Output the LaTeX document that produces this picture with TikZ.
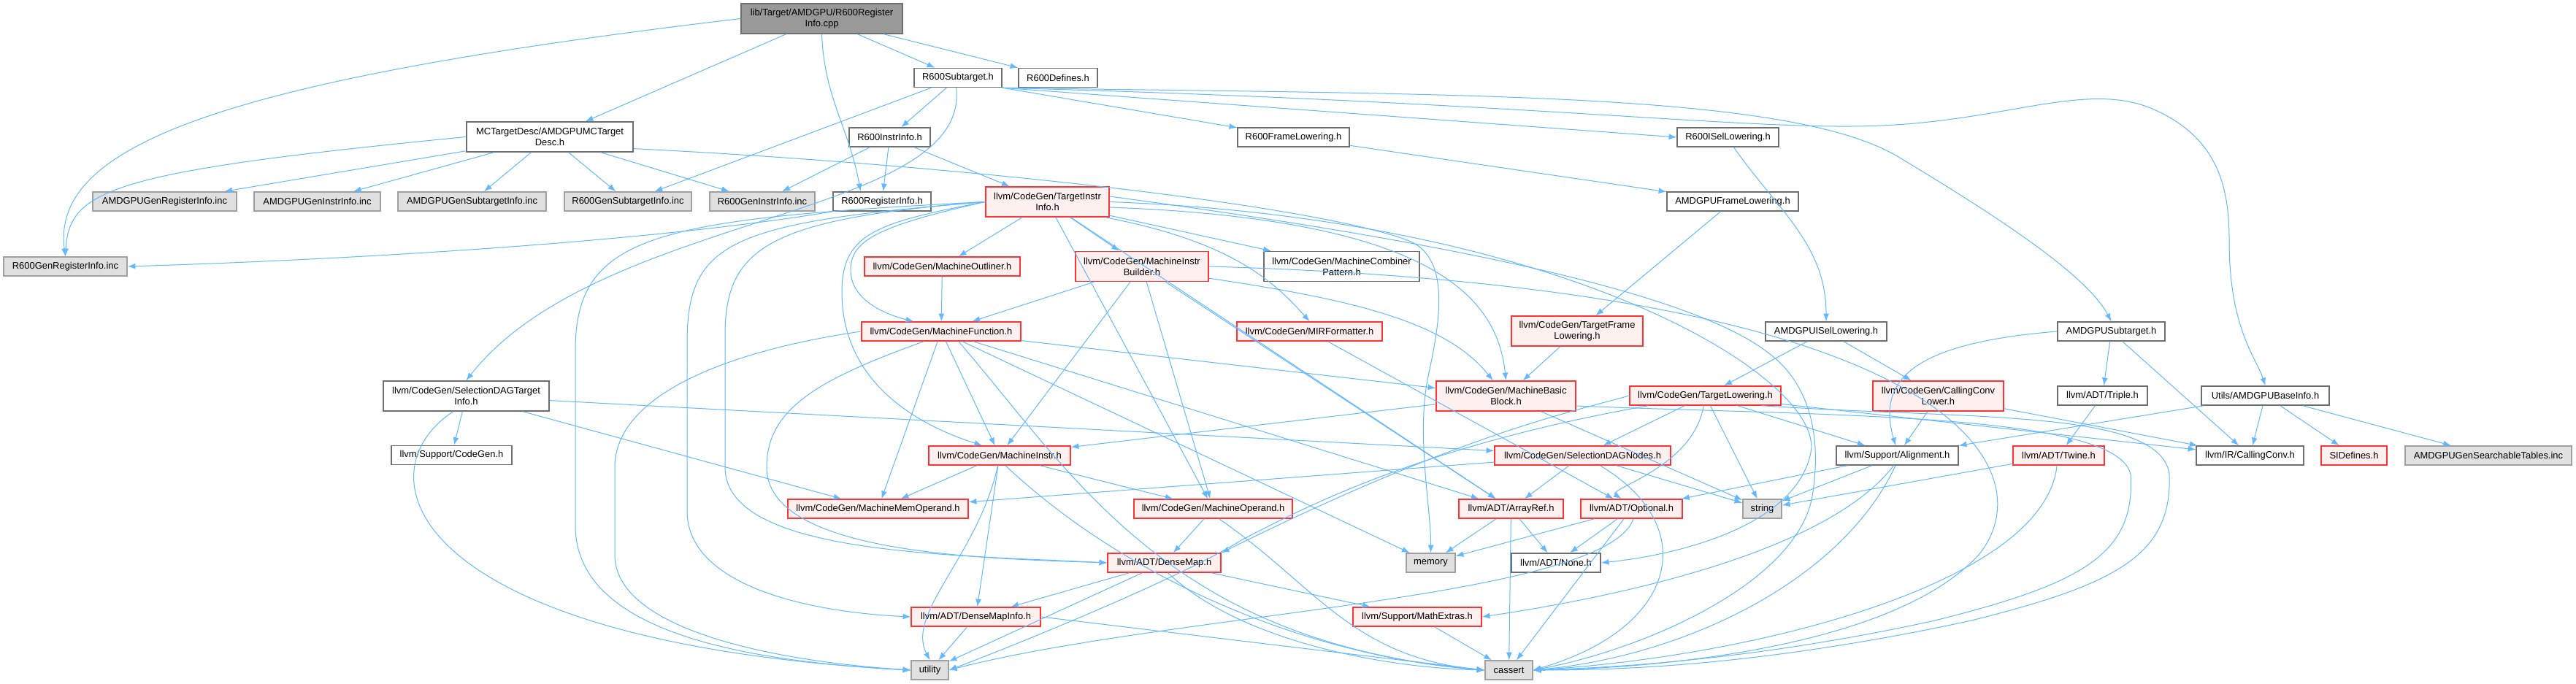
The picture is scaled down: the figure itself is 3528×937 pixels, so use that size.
\documentclass[tikz,border=0pt]{standalone}
\usepackage{fontspec}
\setmainfont{Liberation Sans}
\usepackage{tikz}
\usepackage{xcolor}
\usetikzlibrary{arrows.meta}
\definecolor{edgeblue}{RGB}{99,184,255}
\definecolor{boxgray}{RGB}{110,110,110}
\definecolor{boxred}{RGB}{255,51,51}
\definecolor{boxpink}{RGB}{255,240,240}
\definecolor{sysgray}{RGB}{160,160,160}
\definecolor{sysfill}{RGB}{224,224,224}
\definecolor{rootfill}{RGB}{153,153,153}

\begin{document}
\begin{tikzpicture}[
    x=0.75pt, y=-0.75pt,
    filebox/.style={rectangle, draw=boxgray, fill=white, line width=1.1pt,
        font=\fontsize{9.7}{11.2}\selectfont, align=center,
        minimum height=19.5pt, inner xsep=2pt, inner ysep=1pt},
    twoline/.style={minimum height=30.75pt},
    redbox/.style={filebox, draw=boxred, fill=boxpink},
    sysbox/.style={filebox, draw=sysgray, fill=sysfill},
    rootbox/.style={filebox, fill=rootfill},
    dep/.style={draw=edgeblue, line width=0.75pt, -{Latex[length=8pt, width=6pt]}}
]

% Page
\fill[white] (0,0) rectangle (3528,937);
\useasboundingbox (0,0) rectangle (3528,937);

% Top: the file itself
\node[rootbox, twoline, minimum width=165.75pt] (root) at (1125.5,25.5) {lib/Target/AMDGPU/R600Register\\Info.cpp};

% Direct includes
\node[filebox, minimum width=90pt] (r600sub) at (1312,106.5) {R600Subtarget.h};
\node[filebox, minimum width=81pt] (r600def) at (1449,106.5) {R600Defines.h};
\node[filebox, twoline, minimum width=171pt] (mctd) at (753,187.5) {MCTargetDesc/AMDGPUMCTarget\\Desc.h};
\node[filebox, minimum width=83.25pt] (r600ii) at (1218.5,188) {R600InstrInfo.h};
\node[filebox, minimum width=114.75pt] (r600fl) at (1771.5,188) {R600FrameLowering.h};
\node[filebox, minimum width=104.25pt] (r600isel) at (2366.5,188) {R600ISelLowering.h};

% Generated tables row
\node[sysbox, minimum width=147.75pt] (amdgpureg) at (225.5,276) {AMDGPUGenRegisterInfo.inc};
\node[sysbox, minimum width=129.75pt] (amdgpuinstr) at (434.5,276) {AMDGPUGenInstrInfo.inc};
\node[sysbox, minimum width=152.25pt] (amdgpusubinfo) at (646.5,276) {AMDGPUGenSubtargetInfo.inc};
\node[sysbox, minimum width=130.5pt] (r600subinfo) at (860,276) {R600GenSubtargetInfo.inc};
\node[sysbox, minimum width=108pt] (r600instrinc) at (1044,276) {R600GenInstrInfo.inc};
\node[filebox, minimum width=100.5pt] (r600reg) at (1208,276) {R600RegisterInfo.h};
\node[redbox, twoline, minimum width=126.75pt] (tii) at (1434.5,276.5) {llvm/CodeGen/TargetInstr\\Info.h};
\node[filebox, minimum width=135pt] (amdgpufl) at (2373,276) {AMDGPUFrameLowering.h};
\node[sysbox, minimum width=126.75pt] (r600genreg) at (89.5,365) {R600GenRegisterInfo.inc};

% CodeGen layer
\node[redbox, minimum width=159.75pt] (outliner) at (1290.5,365) {llvm/CodeGen/MachineOutliner.h};
\node[redbox, twoline, minimum width=136.5pt] (mib) at (1564,365) {llvm/CodeGen/MachineInstr\\Builder.h};
\node[filebox, twoline, minimum width=159.75pt] (combiner) at (1837.5,365) {llvm/CodeGen/MachineCombiner\\Pattern.h};
\node[redbox, minimum width=163.5pt] (mf) at (1289,454) {llvm/CodeGen/MachineFunction.h};
\node[redbox, minimum width=149.25pt] (mirf) at (1793.5,454) {llvm/CodeGen/MIRFormatter.h};
\node[redbox, twoline, minimum width=135pt] (tfl) at (2160,453.5) {llvm/CodeGen/TargetFrame\\Lowering.h};
\node[filebox, minimum width=124.5pt] (amdgpuisel) at (2501,454) {AMDGPUISelLowering.h};
\node[filebox, minimum width=110.25pt] (amdgpusub) at (2891.5,454) {AMDGPUSubtarget.h};
\node[filebox, twoline, minimum width=170.25pt] (sdagti) at (638.5,542.5) {llvm/CodeGen/SelectionDAGTarget\\Info.h};
\node[redbox, twoline, minimum width=143.25pt] (mbb) at (2062.5,542.5) {llvm/CodeGen/MachineBasic\\Block.h};
\node[redbox, minimum width=155.25pt] (tl) at (2335.5,542) {llvm/CodeGen/TargetLowering.h};
\node[redbox, twoline, minimum width=134.25pt] (ccl) at (2654.5,542.5) {llvm/CodeGen/CallingConv\\Lower.h};
\node[filebox, minimum width=92.25pt] (triple) at (2879.5,542) {llvm/ADT/Triple.h};
\node[filebox, minimum width=131.25pt] (baseinfo) at (3102.5,542) {Utils/AMDGPUBaseInfo.h};

% Lower headers
\node[filebox, minimum width=123.75pt] (cgh) at (618.5,623.5) {llvm/Support/CodeGen.h};
\node[redbox, minimum width=145.5pt] (mi) at (1369,624) {llvm/CodeGen/MachineInstr.h};
\node[redbox, minimum width=180.75pt] (sdagn) at (2167.5,624) {llvm/CodeGen/SelectionDAGNodes.h};
\node[filebox, minimum width=125.25pt] (align) at (2598.5,624) {llvm/Support/Alignment.h};
\node[redbox, minimum width=93.75pt] (twine) at (2819.5,624) {llvm/ADT/Twine.h};
\node[filebox, minimum width=110.25pt] (cconv) at (3081.5,624) {llvm/IR/CallingConv.h};
\node[redbox, minimum width=67.5pt] (sidef) at (3224,624) {SIDefines.h};
\node[sysbox, minimum width=171pt] (searchable) at (3408,624) {AMDGPUGenSearchableTables.inc};
\node[redbox, minimum width=185.25pt] (mmo) at (1202.5,697) {llvm/CodeGen/MachineMemOperand.h};
\node[redbox, minimum width=162.75pt] (mo) at (1661.5,697) {llvm/CodeGen/MachineOperand.h};
\node[redbox, minimum width=107.25pt] (arrayref) at (2069.5,697) {llvm/ADT/ArrayRef.h};
\node[redbox, minimum width=104.25pt] (optional) at (2234.5,697) {llvm/ADT/Optional.h};
\node[sysbox, minimum width=39.75pt] (string) at (2413.5,697) {string};
\node[redbox, minimum width=116.25pt] (densemap) at (1594.5,771) {llvm/ADT/DenseMap.h};
\node[sysbox, minimum width=50.25pt] (memory) at (1959.5,771) {memory};
\node[filebox, minimum width=91.5pt] (none) at (2131,771) {llvm/ADT/None.h};
\node[redbox, minimum width=132.75pt] (dmi) at (1336.5,845) {llvm/ADT/DenseMapInfo.h};
\node[redbox, minimum width=132pt] (mathex) at (1941,845) {llvm/Support/MathExtras.h};
\node[sysbox, minimum width=38.25pt] (utility) at (1273.5,918) {utility};
\node[sysbox, minimum width=48.75pt] (cassert) at (2066.5,918) {cassert};

% Edges from the file
\draw[dep] (root.west) .. controls (300,110) and (70,200) .. (r600genreg.north);
\draw[dep] (root) -- (mctd);
\draw[dep] (root.south) to[out=-88, in=100] (r600reg.155);
\draw[dep] (root) -- (r600sub);
\draw[dep] (root) -- (r600def);

% R600Subtarget.h
\draw[dep] (r600sub) -- (r600subinfo);
\draw[dep] (r600sub) -- (r600ii);
\draw[dep] (r600sub.-100) .. controls (1330,300) and (820,290) .. (sdagti.north);
\draw[dep] (r600sub.south east) -- (r600fl);
\draw[dep] (r600sub.south east) -- (r600isel.west);
\draw[dep] (r600sub.south east) .. controls (2000,130) and (2450,125) .. (2600,215) .. controls (2750,305) and (2860,380) .. (amdgpusub.north);
\draw[dep] (r600sub.south east) .. controls (2100,140) and (2400,180) .. (2576,172) .. controls (2750,165) and (2860,110) .. (2950,150) .. controls (3040,190) and (3053,260) .. (3053,330) .. controls (3053,450) and (3090,490) .. (baseinfo.north);

% MCTargetDesc
\draw[dep] (mctd) -- (amdgpureg);
\draw[dep] (mctd) -- (amdgpuinstr);
\draw[dep] (mctd) -- (amdgpusubinfo);
\draw[dep] (mctd) -- (r600subinfo);
\draw[dep] (mctd) -- (r600instrinc);
\draw[dep] (mctd.west) .. controls (150,235) and (95,260) .. (r600genreg.north);
\draw[dep] (mctd.-8) .. controls (1300,225) and (1800,280) .. (1930,330) .. controls (1990,355) and (1970,450) .. (1955,520) .. controls (1940,600) and (1960,700) .. (memory.north);

% R600InstrInfo.h / R600RegisterInfo.h
\draw[dep] (r600ii) -- (r600instrinc);
\draw[dep] (r600ii) -- (r600reg);
\draw[dep] (r600ii) -- (tii);
\draw[dep] (r600reg.south west) .. controls (900,330) and (500,355) .. (r600genreg.east);

% Lowering chain
\draw[dep] (r600fl) -- (amdgpufl);
\draw[dep] (amdgpufl) -- (tfl);
\draw[dep] (tfl) -- (mbb);
\draw[dep] (r600isel.-60) to[out=-55, in=90] (amdgpuisel.north);
\draw[dep] (amdgpuisel) -- (tl);
\draw[dep] (amdgpuisel) -- (ccl);

% AMDGPUSubtarget.h / AMDGPUBaseInfo.h
\draw[dep] (amdgpusub.west) .. controls (2620,470) and (2570,520) .. (align.100);
\draw[dep] (amdgpusub) -- (triple);
\draw[dep] (amdgpusub) -- (cconv);
\draw[dep] (triple) -- (twine);
\draw[dep] (baseinfo) -- (align);
\draw[dep] (baseinfo) -- (cconv);
\draw[dep] (baseinfo) -- (sidef);
\draw[dep] (baseinfo) -- (searchable);
\draw[dep] (ccl) -- (align);
\draw[dep] (ccl) -- (cconv);

% TargetInstrInfo.h
\draw[dep] (tii) -- (outliner);
\draw[dep] (tii) -- (mib);
\draw[dep] (tii) -- (combiner);
\draw[dep] (tii.-15) .. controls (1680,330) and (1740,380) .. (mirf.north);
\draw[dep] (tii.-5) .. controls (1950,300) and (2050,400) .. (mbb.north);
\draw[dep] (tii.west) .. controls (1200,310) and (1165,330) .. (1165,370) .. controls (1165,410) and (1210,430) .. (mf.160);
\draw[dep] (tii) -- (mo);
\draw[dep] (tii.west) .. controls (1200,305) and (1153,320) .. (1153,400) .. controls (1153,520) and (1250,580) .. (mi.150);
\draw[dep] (tii) -- (arrayref);
\draw[dep] (tii.east) .. controls (2150,300) and (2500,520) .. (2480,620) .. controls (2460,720) and (2300,760) .. (none.east);
\draw[dep] (tii.5) .. controls (1900,320) and (2300,390) .. (2420,482) .. controls (2480,525) and (2495,600) .. (2482,680) .. controls (2460,800) and (2250,890) .. (cassert.east);
\draw[dep] (tii.west) .. controls (1050,300) and (993,340) .. (993,460) -- (993,640) .. controls (993,760) and (1300,760) .. (densemap.west);
\draw[dep] (tii.west) .. controls (1000,305) and (941,330) .. (941,470) -- (941,700) .. controls (941,800) and (1100,838) .. (dmi.west);
\draw[dep] (tii.west) .. controls (900,300) and (788,320) .. (788,480) -- (788,720) .. controls (788,860) and (1000,905) .. (utility.west);

% MachineOutliner.h / MachineInstrBuilder.h
\draw[dep] (outliner) -- (mf);
\draw[dep] (mib) -- (mf);
\draw[dep] (mib.-10) .. controls (1850,410) and (1980,440) .. (mbb.130);
\draw[dep] (mib) -- (mi);
\draw[dep] (mib) -- (mo);
\draw[dep] (mib) -- (arrayref);
\draw[dep] (mib.east) .. controls (2700,395) and (2800,650) .. (2710,760) .. controls (2600,880) and (2300,915) .. (cassert.east);

% MachineFunction.h
\draw[dep] (mf) -- (mbb);
\draw[dep] (mf) -- (mi);
\draw[dep] (mf) -- (mmo);
\draw[dep] (mf) -- (arrayref);
\draw[dep] (mf) -- (memory);
\draw[dep] (mf.-150) .. controls (1120,520) and (1050,560) .. (1050,640) .. controls (1050,760) and (1350,765) .. (densemap.west);
\draw[dep] (mf.west) .. controls (1000,480) and (842,540) .. (842,640) -- (842,760) .. controls (842,860) and (1050,905) .. (utility.west);
\draw[dep] (mf.-30) .. controls (1470,650) and (1600,880) .. (cassert.west);
\draw[dep] (mirf) -- (optional);

% SelectionDAGTargetInfo.h
\draw[dep] (sdagti) -- (cgh);
\draw[dep] (sdagti) -- (mmo);
\draw[dep] (sdagti) -- (sdagn);
\draw[dep] (sdagti.-130) .. controls (490,650) and (560,880) .. (utility.west);

% MachineBasicBlock.h / TargetLowering.h
\draw[dep] (mbb) -- (mi);
\draw[dep] (mbb) -- (string);
\draw[dep] (mbb.-8) .. controls (2500,570) and (2900,565) .. (2918,650) .. controls (2925,760) and (2850,800) .. (2650,850) .. controls (2400,905) and (2200,915) .. (cassert.east);
\draw[dep] (tl) -- (sdagn);
\draw[dep] (tl.-100) .. controls (2320,640) and (2200,670) .. (optional.135);
\draw[dep] (tl.west) .. controls (2150,565) and (2000,595) .. (densemap.north east);
\draw[dep] (tl) -- (align);
\draw[dep] (tl) -- (cconv);
\draw[dep] (tl) -- (string);
\draw[dep] (tl.-170) .. controls (1950,610) and (1790,693) .. (1700,740) .. controls (1620,790) and (1400,880) .. (utility.east);
\draw[dep] (tl.-10) .. controls (2700,575) and (2960,560) .. (2971,650) .. controls (2975,760) and (2900,800) .. (2700,850) .. controls (2400,915) and (2200,918) .. (cassert.east);

% MachineInstr.h / SelectionDAGNodes.h
\draw[dep] (mi) -- (mmo);
\draw[dep] (mi) -- (mo);
\draw[dep] (mi) -- (dmi);
\draw[dep] (mi.-100) .. controls (1340,760) and (1240,840) .. (utility.north);
\draw[dep] (mi.-60) .. controls (1550,800) and (1800,900) .. (cassert.west);
\draw[dep] (sdagn) -- (mmo);
\draw[dep] (sdagn) -- (arrayref);
\draw[dep] (sdagn) -- (string);
\draw[dep] (sdagn.-30) .. controls (2330,720) and (2300,860) .. (cassert.east);

% Alignment.h / Twine.h
\draw[dep] (align) -- (optional);
\draw[dep] (align) -- (string);
\draw[dep] (align.-110) .. controls (2500,760) and (2200,820) .. (mathex.east);
\draw[dep] (align.-100) .. controls (2520,800) and (2300,900) .. (cassert.east);
\draw[dep] (twine) -- (string);
\draw[dep] (twine.-100) .. controls (2800,800) and (2400,900) .. (cassert.east);

% ADT leaves
\draw[dep] (mo) -- (densemap);
\draw[dep] (mo.-60) .. controls (1800,800) and (1850,900) .. (cassert.west);
\draw[dep] (arrayref) -- (memory);
\draw[dep] (arrayref) -- (none);
\draw[dep] (arrayref) -- (cassert);
\draw[dep] (optional) -- (memory);
\draw[dep] (optional) -- (none);
\draw[dep] (optional) -- (cassert);
\draw[dep] (optional.-80) .. controls (2200,820) and (1600,840) .. (utility.east);
\draw[dep] (densemap) -- (dmi);
\draw[dep] (densemap) -- (utility);
\draw[dep] (densemap) -- (mathex);
\draw[dep] (densemap.-70) .. controls (1700,880) and (1900,915) .. (cassert.west);
\draw[dep] (dmi) -- (utility);
\draw[dep] (dmi.east) -- (cassert.west);
\draw[dep] (mathex) -- (cassert);

\end{tikzpicture}
\end{document}
